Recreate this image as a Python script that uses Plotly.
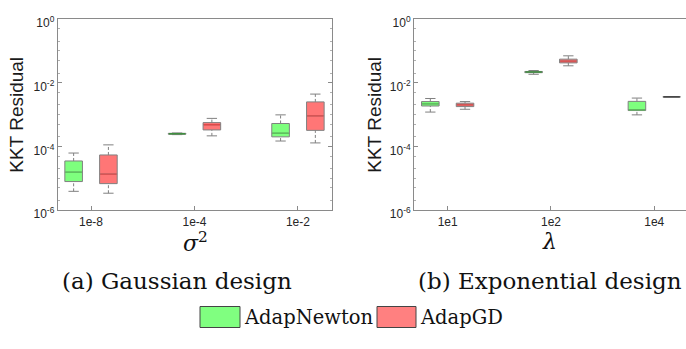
import plotly.graph_objects as go

# ---- data -------------------------------------------------------------
sigma_labels = ["1e-8", "1e-4", "1e-2"]
lambda_labels = ["1e1", "1e2", "1e4"]

# Gaussian design: box statistics per noise level (KKT residual)
g_newton_lo = [3.9e-6, 2.35e-4, 1.48e-4]
g_newton_q1 = [7.9e-6, 2.42e-4, 2.0e-4]
g_newton_med = [1.56e-5, 2.5e-4, 2.6e-4]
g_newton_q3 = [3.5e-5, 2.58e-4, 5.25e-4]
g_newton_hi = [6.2e-5, 2.65e-4, 9.8e-4]

g_gd_lo = [3.4e-6, 2.15e-4, 1.29e-4]
g_gd_q1 = [6.8e-6, 3.3e-4, 3.2e-4]
g_gd_med = [1.36e-5, 4.8e-4, 9.1e-4]
g_gd_q3 = [5.4e-5, 5.6e-4, 2.5e-3]
g_gd_hi = [1.12e-4, 7.6e-4, 4.4e-3]

# Exponential design: box statistics per lambda
e_newton_lo = [1.2e-3, 1.84e-2, 9.8e-4]
e_newton_q1 = [1.86e-3, 2.07e-2, 1.34e-3]
e_newton_med = [2.17e-3, 2.17e-2, 1.4e-3]
e_newton_q3 = [2.56e-3, 2.26e-2, 2.6e-3]
e_newton_hi = [3.2e-3, 2.42e-2, 3.3e-3]

e_gd_lo = [1.47e-3, 3.4e-2, 3.6e-3]
e_gd_q1 = [1.78e-3, 4.2e-2, 3.6e-3]
e_gd_med = [2.03e-3, 4.8e-2, 3.6e-3]
e_gd_q3 = [2.28e-3, 5.5e-2, 3.6e-3]
e_gd_hi = [2.56e-3, 7.0e-2, 3.6e-3]

ytick_vals = [1e-6, 1e-4, 1e-2, 1e0]
ytick_text = ["10<sup>-6</sup>", "10<sup>-4</sup>", "10<sup>-2</sup>", "10<sup>0</sup>"]

# ---- styling ----------------------------------------------------------
GREEN_FILL = "rgba(90,255,90,0.78)"
RED_FILL = "rgba(255,80,80,0.78)"
GREEN_MED = "#55c855"
RED_MED = "#e04848"
EDGE = "#808080"
AXIS = "#8a8a8a"
TXT = "#262626"
OFF = 0.168
BW = 0.17
CAP = 0.05

fig = go.Figure()


def add_series(xref, yref, lo, q1, med, q3, hi, side, fill, medc, name):
    xs = [i + side * OFF for i in range(len(med))]
    fig.add_trace(go.Box(
        x=xs, q1=q1, median=med, q3=q3, lowerfence=q1, upperfence=q3,
        width=BW, fillcolor=fill, line=dict(color=EDGE, width=1),
        whiskerwidth=0, boxpoints=False, hoverinfo="skip",
        name=name, showlegend=False, xaxis=xref, yaxis=yref))
    # dashed whiskers with solid caps
    wx, wy, cx, cy = [], [], [], []
    for x, a, b, c, d in zip(xs, lo, q1, q3, hi):
        if a < b:
            wx += [x, x, None]
            wy += [a, b, None]
        if d > c:
            wx += [x, x, None]
            wy += [c, d, None]
        if a < b or d > c:
            cx += [x - CAP, x + CAP, None, x - CAP, x + CAP, None]
            cy += [a, a, None, d, d, None]
    fig.add_trace(go.Scatter(x=wx, y=wy, mode="lines",
                             line=dict(color=EDGE, width=1, dash="3px,2px"),
                             hoverinfo="skip", showlegend=False, xaxis=xref, yaxis=yref))
    fig.add_trace(go.Scatter(x=cx, y=cy, mode="lines", line=dict(color=EDGE, width=1),
                             hoverinfo="skip", showlegend=False, xaxis=xref, yaxis=yref))
    # coloured median bars
    for x, m, c in zip(xs, med, medc):
        fig.add_trace(go.Scatter(x=[x - BW / 2 + 0.006, x + BW / 2 - 0.006], y=[m, m],
                                 mode="lines", line=dict(color=c, width=1.3),
                                 hoverinfo="skip", showlegend=False, xaxis=xref, yaxis=yref))


add_series("x", "y", g_newton_lo, g_newton_q1, g_newton_med, g_newton_q3, g_newton_hi,
           -1, GREEN_FILL, [GREEN_MED, "#3f8f3f", GREEN_MED], "AdapNewton")
add_series("x", "y", g_gd_lo, g_gd_q1, g_gd_med, g_gd_q3, g_gd_hi,
           1, RED_FILL, [RED_MED] * 3, "AdapGD")
add_series("x2", "y2", e_newton_lo, e_newton_q1, e_newton_med, e_newton_q3, e_newton_hi,
           -1, GREEN_FILL, [GREEN_MED, "#3f8f3f", GREEN_MED], "AdapNewton")
add_series("x2", "y2", e_gd_lo, e_gd_q1, e_gd_med, e_gd_q3, e_gd_hi,
           1, RED_FILL, [RED_MED, RED_MED, "#333333"], "AdapGD")

W, H = 686, 349
yd = [1 - 215 / H, 1 - 14.7 / H]


def xaxis(dom, labels, rng, anchor):
    return dict(domain=dom, range=rng, anchor=anchor, tickmode="array", tickvals=[0, 1, 2],
                ticktext=labels, ticks="inside", ticklen=4, tickcolor=AXIS,
                showline=True, linecolor=AXIS, linewidth=1, mirror=True,
                showgrid=False, zeroline=False,
                tickfont=dict(family="Liberation Sans, Arial", size=12, color=TXT))


def yaxis(anchor, mirror):
    return dict(type="log", range=[-6, 0], domain=yd, anchor=anchor,
                tickmode="array", tickvals=ytick_vals, ticktext=ytick_text,
                ticks="inside", ticklen=4, tickcolor=AXIS, ticklabelshift=4,
                minor=dict(ticks="inside", ticklen=2, tickcolor="#b0b0b0"),
                showline=True, linecolor=AXIS, linewidth=1, mirror=mirror,
                showgrid=False, zeroline=False,
                tickfont=dict(family="Liberation Sans, Arial", size=12, color=TXT))


fig.update_layout(
    width=W, height=H, margin=dict(l=0, r=0, t=0, b=0),
    paper_bgcolor="white", plot_bgcolor="white", showlegend=False,
    xaxis=xaxis([57.7 / W, 332 / W], sigma_labels, [-0.322, 2.329], "y"),
    yaxis=yaxis("x", "allticks"),
    xaxis2=xaxis([414 / W, 1.0], lambda_labels, [-0.326, 2.307], "y2"),
    yaxis2=yaxis("x2", False),
)

SERIF = "DejaVu Serif, serif"


def note(x, y, text, size, family=SERIF, color="#111", xanchor="center", angle=0):
    return dict(x=x / W, y=1 - y / H, xref="paper", yref="paper", text=text,
                xanchor=xanchor, yanchor="middle", textangle=angle, showarrow=False,
                font=dict(family=family, size=size, color=color))


ann = []
# y titles
for xc in (17, 375):
    ann.append(note(xc, 115, "KKT Residual", 19, "Liberation Sans, Arial", "#1a1a1a", angle=-90))
# x titles
ann.append(note(195, 248, "<i>σ</i><sup>2</sup>", 22))
ann.append(note(549, 248, "<i>λ</i>", 22))
# captions
ann.append(note(177, 289, "(a) Gaussian design", 23))
ann.append(note(550, 289, "(b) Exponential design", 23))
# legend
shapes = []
for (x0, x1, fill, label, tx) in [(200, 240, "#80ff80", "AdapNewton", 242),
                                   (377, 416, "#ff8080", "AdapGD", 418)]:
    shapes.append(dict(type="rect", xref="paper", yref="paper",
                       x0=x0 / W, x1=x1 / W, y0=1 - 338 / H, y1=1 - 316 / H,
                       fillcolor=fill, line=dict(color="#444", width=1)))
    ann.append(note(tx, 327, label, 19.5, xanchor="left"))
fig.update_layout(annotations=ann, shapes=shapes)

fig.write_html("out.html")
